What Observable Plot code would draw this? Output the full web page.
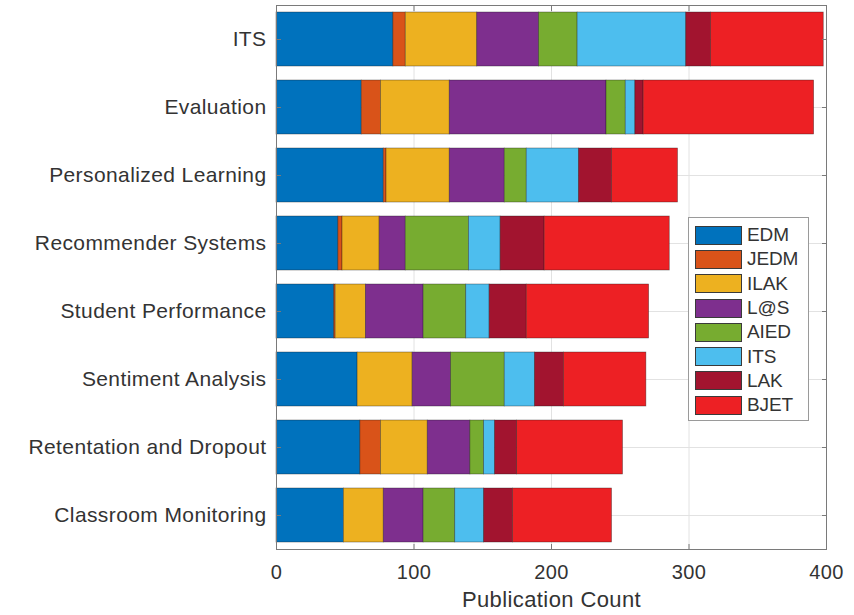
<!DOCTYPE html>
<html>
<head>
<meta charset="utf-8">
<script src="https://cdn.jsdelivr.net/npm/d3@7"></script>
<script src="https://cdn.jsdelivr.net/npm/@observablehq/plot@0.6"></script>
<style>
  body { margin: 0; background: #fff; }
  #wrap { position: relative; width: 854px; height: 615px; font-family: "Liberation Sans", Arial, Helvetica, sans-serif; }
  #legend { position: absolute; left: 688px; top: 217px; width: 121px; height: 204px; box-sizing: border-box;
            border: 1px solid #9a9a9a; background: #fff; padding-top: 5px; }
  .row { display: flex; align-items: center; height: 24.3px; }
  .sw { width: 47px; height: 19px; box-sizing: border-box; border: 1px solid #3a3a3a; margin-left: 6px; margin-right: 5px; }
  .lab { font-size: 19px; color: #333; letter-spacing: -0.1px; }
</style>
</head>
<body>
<div id="wrap"></div>
<script>
const categories = ["ITS", "Evaluation", "Personalized Learning", "Recommender Systems",
  "Student Performance", "Sentiment Analysis", "Retentation and Dropout", "Classroom Monitoring"];
const series = ["EDM", "JEDM", "ILAK", "L@S", "AIED", "ITS", "LAK", "BJET"];
const colors = ["#0072BD", "#D95319", "#EDB120", "#7E2F8E", "#77AC30", "#4DBEEE", "#A2142F", "#ED2024"];

const EDM  = [85, 62, 78, 45, 42, 59, 61, 49];
const JEDM = [9, 14, 2, 3, 1, 0, 15, 0];
const ILAK = [52, 50, 46, 27, 22, 40, 34, 29];
const LAS  = [45, 114, 40, 19, 42, 28, 31, 29];
const AIED = [28, 14, 16, 46, 31, 39, 10, 23];
const ITSv = [79, 7, 38, 23, 17, 22, 8, 21];
const LAK  = [18, 6, 24, 32, 27, 21, 16, 21];
const BJET = [82, 124, 48, 91, 89, 60, 77, 72];
const xTicks = [0, 100, 200, 300, 400];
const xLabel = "Publication Count";

const seriesValues = [EDM, JEDM, ILAK, LAS, AIED, ITSv, LAK, BJET];
const rows = categories.flatMap((c, i) =>
  series.map((s, j) => ({category: c, source: s, count: seriesValues[j][i]})));

const axisInk = "#7a7a7a";
const chart = Plot.plot({
  width: 854,
  height: 615,
  marginLeft: 276,
  marginRight: 28,
  marginTop: 5,
  marginBottom: 66,
  style: {fontFamily: "'Liberation Sans', Arial, Helvetica, sans-serif", color: "#333", background: "#fff", letterSpacing: "0.4px"},
  x: {domain: [0, 400]},
  y: {domain: categories, paddingInner: 0.2, paddingOuter: 0.1},
  color: {domain: series, range: colors},
  marks: [
    Plot.gridX(xTicks.slice(1, -1), {stroke: "#e2e2e2", strokeOpacity: 1}),
    Plot.gridY(categories, {stroke: "#e2e2e2", strokeOpacity: 1}),
    Plot.barX(rows, {y: "category", x: "count", fill: "source", stroke: "#1a1a1a", strokeWidth: 0.7, strokeOpacity: 0.5}),
    Plot.frame({stroke: axisInk, strokeWidth: 1}),
    Plot.axisX({anchor: "bottom", ticks: xTicks, tickSize: -5, tickFormat: () => "", stroke: axisInk, label: null}),
    Plot.axisX({anchor: "top", ticks: xTicks, tickSize: -5, tickFormat: () => "", stroke: axisInk, label: null}),
    Plot.axisX({anchor: "bottom", ticks: xTicks, tickSize: 0, tickPadding: 15, fontSize: 20, fill: "#333", label: null}),
    Plot.axisY({anchor: "left", tickSize: -5, tickFormat: () => "", stroke: axisInk, label: null}),
    Plot.axisY({anchor: "right", tickSize: -5, tickFormat: () => "", stroke: axisInk, label: null}),
    Plot.axisY({anchor: "left", tickSize: 0, tickPadding: 10, fontSize: 21, fill: "#333", label: null}),
    Plot.text([xLabel], {frameAnchor: "bottom", lineAnchor: "top", dy: 42, fontSize: 22, fill: "#333"})
  ]
});

const wrap = document.getElementById("wrap");
wrap.appendChild(chart);

const legend = document.createElement("div");
legend.id = "legend";
series.forEach((s, j) => {
  const r = document.createElement("div");
  r.className = "row";
  const sw = document.createElement("div");
  sw.className = "sw";
  sw.style.background = colors[j];
  const lb = document.createElement("span");
  lb.className = "lab";
  lb.textContent = s;
  r.appendChild(sw);
  r.appendChild(lb);
  legend.appendChild(r);
});
wrap.appendChild(legend);
</script>
</body>
</html>
